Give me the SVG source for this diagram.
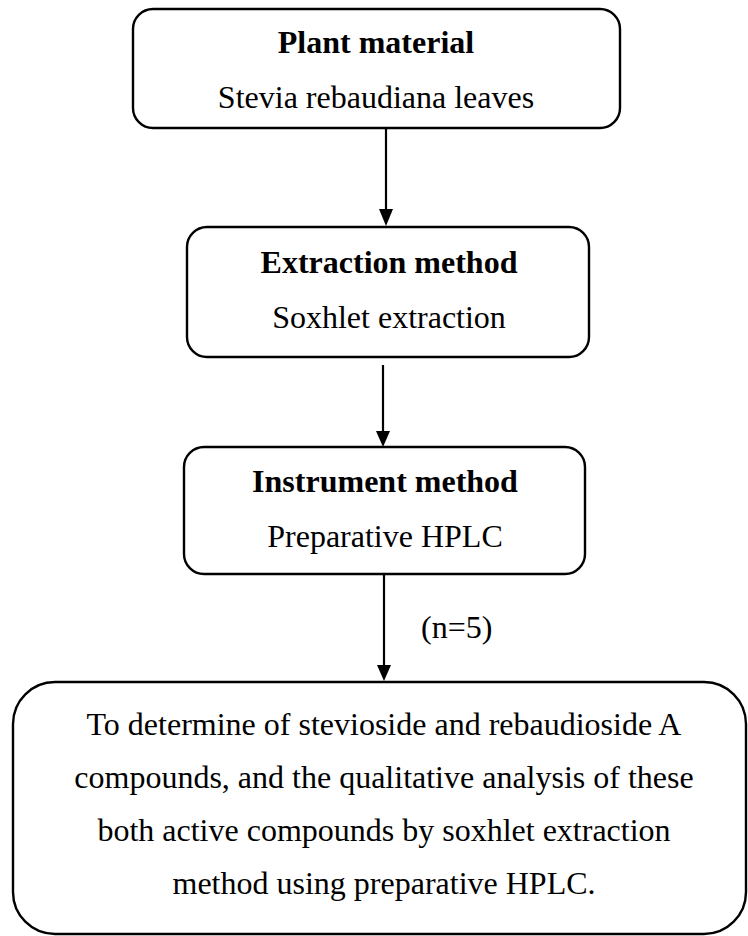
<svg xmlns="http://www.w3.org/2000/svg" width="748" height="936" viewBox="0 0 748 936">
<defs>
<style>
.box{fill:#fff;stroke:#000;stroke-width:2.4}
.t{font-family:"Liberation Serif","Times New Roman",serif;font-size:32px;fill:#000;text-anchor:middle}
.b{font-weight:bold}
.c{stroke:#000;stroke-width:2.2;fill:none}
.h{fill:#000}
</style>
</defs>
<rect width="748" height="936" fill="#fff"/>
<g id="connectors">
<line class="c" x1="386" y1="128" x2="386" y2="209"/>
<path class="h" d="M379,209 L393,209 L386,226 Z"/>
<line class="c" x1="383" y1="365" x2="383" y2="431"/>
<path class="h" d="M376,431 L390,431 L383,447 Z"/>
<line class="c" x1="384" y1="575" x2="384" y2="665"/>
<path class="h" d="M377,665 L391,665 L384,681 Z"/>
<text class="t" x="421" y="638" style="text-anchor:start">(n=5)</text>
</g>
<g id="node1">
<rect class="box" x="133" y="9" width="487" height="119" rx="20"/>
<text class="t b" x="376" y="53">Plant material</text>
<text class="t" x="376" y="108">Stevia rebaudiana leaves</text>
</g>
<g id="node2">
<rect class="box" x="187" y="227" width="402" height="130" rx="20"/>
<text class="t b" x="389" y="273">Extraction method</text>
<text class="t" x="389" y="328">Soxhlet extraction</text>
</g>
<g id="node3">
<rect class="box" x="184" y="447" width="401" height="127" rx="20"/>
<text class="t b" x="385" y="492">Instrument method</text>
<text class="t" x="385" y="547">Preparative HPLC</text>
</g>
<g id="node4">
<rect class="box" x="13" y="682" width="733" height="252" rx="42"/>
<text class="t" x="384" y="735">To determine of stevioside and rebaudioside A</text>
<text class="t" x="384" y="788">compounds, and the qualitative analysis of these</text>
<text class="t" x="384" y="841">both active compounds by soxhlet extraction</text>
<text class="t" x="384" y="894">method using preparative HPLC.</text>
</g>
</svg>
